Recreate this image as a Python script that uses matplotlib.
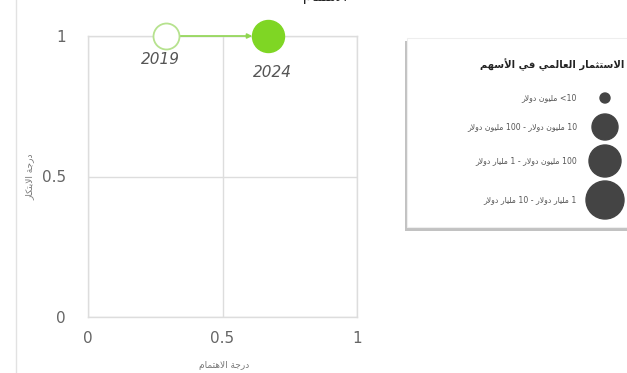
import matplotlib
matplotlib.use("Agg")
import matplotlib.pyplot as plt
from matplotlib.patches import Rectangle

# ---------------- data ----------------
years = ["2019", "2024"]
interest = [0.29, 0.67]      # x: درجة الاهتمام
innovation = [1.0, 1.0]      # y: درجة الابتكار
point_size_cat = [1, 2]      # index into legend size categories
filled = [False, True]

xticks = [0, 0.5, 1]
xtick_labels = ["0", "0.5", "1"]
yticks = [0, 0.5, 1]
ytick_labels = ["0", "0.5", "1"]

legend_title = "الاستثمار العالمي في الأسهم"
legend_labels = [
    "<10 مليون دولار",
    "10 مليون دولار - 100 مليون دولار",
    "100 مليون دولار - 1 مليار دولار",
    "1 مليار دولار - 10 مليار دولار",
]
legend_radius_px = [5, 13, 16, 19]

x_label = "درجة الاهتمام"
y_label = "درجة الابتكار"
top_title = "الاهتمام"

# ---------------- minimal Arabic shaping ----------------
FORMS = {  # iso, fin, ini, med
    'ا': (0xFE8D, 0xFE8E, None, None),
    'أ': (0xFE83, 0xFE84, None, None),
    'ل': (0xFEDD, 0xFEDE, 0xFEDF, 0xFEE0),
    'س': (0xFEB1, 0xFEB2, 0xFEB3, 0xFEB4),
    'ت': (0xFE95, 0xFE96, 0xFE97, 0xFE98),
    'ث': (0xFE99, 0xFE9A, 0xFE9B, 0xFE9C),
    'م': (0xFEE1, 0xFEE2, 0xFEE3, 0xFEE4),
    'ر': (0xFEAD, 0xFEAE, None, None),
    'ع': (0xFEC9, 0xFECA, 0xFECB, 0xFECC),
    'ي': (0xFEF1, 0xFEF2, 0xFEF3, 0xFEF4),
    'ف': (0xFED1, 0xFED2, 0xFED3, 0xFED4),
    'ه': (0xFEE9, 0xFEEA, 0xFEEB, 0xFEEC),
    'و': (0xFEED, 0xFEEE, None, None),
    'ن': (0xFEE5, 0xFEE6, 0xFEE7, 0xFEE8),
    'د': (0xFEA9, 0xFEAA, None, None),
    'ج': (0xFE9D, 0xFE9E, 0xFE9F, 0xFEA0),
    'ة': (0xFE93, 0xFE94, None, None),
    'ب': (0xFE8F, 0xFE90, 0xFE91, 0xFE92),
    'ك': (0xFED9, 0xFEDA, 0xFEDB, 0xFEDC),
    'ز': (0xFEAF, 0xFEB0, None, None),
    'LA': (0xFEFB, 0xFEFC, None, None),
    'LAH': (0xFEF7, 0xFEF8, None, None),
}


def shape_word(w):
    units = []
    i = 0
    while i < len(w):
        c = w[i]
        if c == 'ل' and i + 1 < len(w) and w[i + 1] in ('ا', 'أ'):
            units.append('LA' if w[i + 1] == 'ا' else 'LAH')
            i += 2
        else:
            units.append(c)
            i += 1
    if not any(u in FORMS for u in units):
        return w
    out = []
    for k, u in enumerate(units):
        if u not in FORMS:
            out.append(u)
            continue
        f = FORMS[u]
        prev = units[k - 1] if k > 0 else None
        nxt = units[k + 1] if k + 1 < len(units) else None
        jp = prev in FORMS and FORMS[prev][2] is not None
        jn = f[2] is not None and nxt in FORMS
        if jp and jn:
            g = f[3]
        elif jp:
            g = f[1]
        elif jn:
            g = f[2]
        else:
            g = f[0]
        out.append(chr(g))
    return ''.join(reversed(out))


def ar(text):
    words = text.split(' ')
    return ' '.join(shape_word(w) for w in reversed(words))


AR_FONT = ['DejaVu Sans']

# ---------------- figure ----------------
W, H = 627, 373
fig = plt.figure(figsize=(W / 100, H / 100), dpi=100)
fig.patch.set_facecolor('white')

# background overlay axes in pixel coordinates
bg = fig.add_axes([0, 0, 1, 1])
bg.set_xlim(0, W)
bg.set_ylim(H, 0)
bg.axis('off')

# left border line
bg.plot([16, 16], [0, H], color='#e2e2e2', lw=1)

# legend box with shadow
bg.add_patch(Rectangle((405, 41), 240, 190, facecolor='#9a9a9a', edgecolor='none', alpha=0.6))
bg.add_patch(Rectangle((407, 38), 240, 189, facecolor='white', edgecolor='#eeeeee', lw=0.8))
bg.text(624, 65, ar(legend_title), ha='right', va='center', fontsize=7.2,
        fontweight='bold', color='#222222', family=AR_FONT)
leg_y = [98, 127, 161, 200]
leg_s = [(2 * r * 0.72) ** 2 for r in legend_radius_px]
bg.scatter([605] * len(leg_y), leg_y, s=leg_s, color='#444444', zorder=3)
for yy, lab in zip(leg_y, legend_labels):
    bg.text(577, yy, ar(lab), ha='right', va='center', fontsize=5.6,
            color='#555555', family=AR_FONT)

# y / x axis titles and top title
bg.text(30, 177, ar(y_label), rotation=90, ha='center', va='center', fontsize=6.5,
        color='#777777', family=AR_FONT)
bg.text(224, 366, ar(x_label), ha='center', va='center', fontsize=6.5,
        color='#777777', family=AR_FONT)
bg.text(325, 4, ar(top_title), ha='center', va='bottom', fontsize=10,
        color='#222222', family=AR_FONT)

# main axes
ax = fig.add_axes([88 / W, (H - 317) / H, 269 / W, (317 - 36) / H])
ax.set_facecolor('none')
ax.set_xlim(0, 1)
ax.set_ylim(0, 1)
for sp in ax.spines.values():
    sp.set_color('#dddddd')
    sp.set_linewidth(1)
ax.set_xticks(xticks)
ax.set_xticklabels(xtick_labels)
ax.set_yticks(yticks)
ax.set_yticklabels(ytick_labels)
ax.tick_params(length=0, colors='#666666', labelsize=11)
ax.tick_params(axis='x', pad=10)
ax.tick_params(axis='y', pad=16)
ax.grid(True, color='#dddddd', lw=1)
ax.set_axisbelow(True)

# arrow between points
ax.annotate('', xy=(interest[1], innovation[1]), xytext=(interest[0], innovation[0]),
            arrowprops=dict(arrowstyle='-|>', color='#8fd650', lw=1.2,
                            shrinkA=9.5, shrinkB=11.5, mutation_scale=7),
            annotation_clip=False, zorder=4)

for i, yr in enumerate(years):
    r = legend_radius_px[point_size_cat[i]]
    s = (2 * r * 0.72) ** 2
    if filled[i]:
        ax.scatter(interest[i], innovation[i], s=s, color='#7fd624', edgecolors='#7fd624',
                   clip_on=False, zorder=5)
    else:
        ax.scatter(interest[i], innovation[i], s=s, facecolors='white', edgecolors='#b6e28e',
                   linewidths=1.3, clip_on=False, zorder=5)

ax.text(interest[0] - 0.02, innovation[0] - 0.085, years[0], ha='center', va='center',
        style='italic', fontsize=11, color='#555555')
ax.text(interest[1] + 0.015, innovation[1] - 0.13, years[1], ha='center', va='center',
        style='italic', fontsize=11, color='#555555')

fig.savefig('out.png', dpi=100, facecolor='white')
